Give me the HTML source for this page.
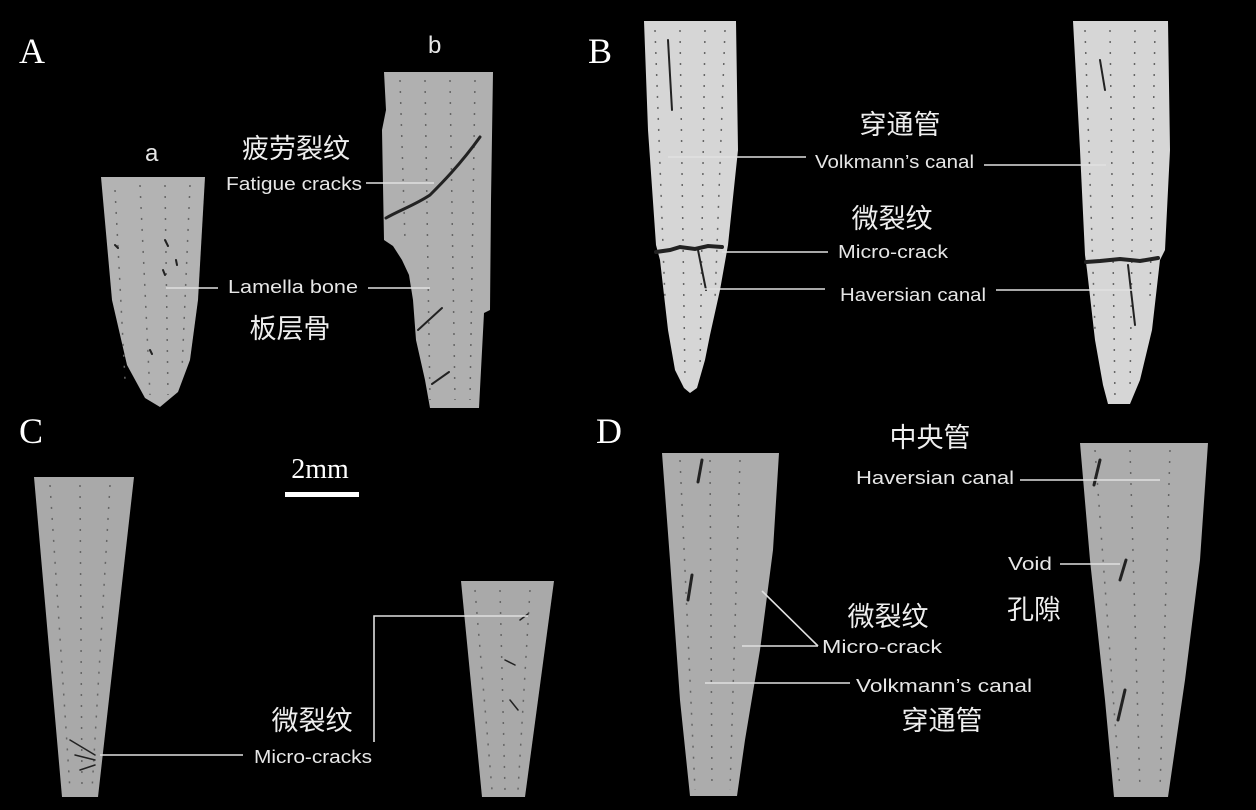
<!DOCTYPE html>
<html><head><meta charset="utf-8"><style>
html,body{margin:0;padding:0;background:#000;}
svg{display:block}
.en{font-family:"Liberation Sans",sans-serif;font-size:18px;fill:#e6e6e6}
.cn{font-family:"Liberation Sans","Noto Sans CJK SC",sans-serif;font-size:27px;fill:#eee;text-anchor:middle}
.lt{font-family:"Liberation Serif",serif;font-size:36px;fill:#fff}
.ln{stroke:#e0e0e0;stroke-width:1.6;fill:none}
.ck{stroke:#222;fill:none;stroke-linecap:round}
.sp{stroke:#666;stroke-width:1.5;stroke-dasharray:2 9;fill:none}
</style></head><body>
<svg width="1256" height="810" viewBox="0 0 1256 810" xmlns="http://www.w3.org/2000/svg">
<rect width="1256" height="810" fill="#000"/>
<!-- Panel A -->
<polygon fill="#b3b3b3" points="101,177 205,177 198,300 190,360 178,392 160,407 145,398 127,365 112,300"/>
<polygon fill="#b0b0b0" points="384,72 493,72 491,200 490,310 484,313 479,408 430,408 425,380 416,340 413,300 409,275 402,260 393,246 384,240 382,130 386,110"/>
<path class="sp" d="M115,190 L125,380 M140,185 L150,395 M165,185 L168,395 M190,185 L182,370 M400,80 L405,240 M425,80 L430,400 M450,80 L455,400 M475,80 L470,400"/>
<path class="ck" stroke-width="3" d="M480,137 C460,165 440,185 430,195 C415,205 400,210 386,218"/>
<path class="ck" stroke-width="2" d="M442,308 L418,330 M449,372 L432,384"/>
<path class="ck" stroke-width="2" d="M165,240 l3,6 M163,270 l2,5 M176,260 l1,5 M115,245 l3,3 M150,350 l2,4"/>
<text class="en" x="145" y="161" style="font-size:24px">a</text>
<text class="en" x="428" y="53" style="font-size:24px">b</text>
<text class="cn" x="296" y="158">疲劳裂纹</text>
<text class="en" x="226" y="190" textLength="136" lengthAdjust="spacingAndGlyphs">Fatigue cracks</text>
<line class="ln" x1="366" y1="183" x2="434" y2="183"/>
<text class="en" x="228" y="293" textLength="130" lengthAdjust="spacingAndGlyphs">Lamella bone</text>
<line class="ln" x1="166" y1="288" x2="218" y2="288"/>
<line class="ln" x1="368" y1="288" x2="430" y2="288"/>
<text class="cn" x="290" y="338">板层骨</text>
<text class="lt" x="19" y="63">A</text>
<!-- Panel B -->
<polygon fill="#d6d6d6" points="644,21 736,21 738,150 728,245 720,290 710,335 705,360 697,388 690,393 684,388 675,370 668,330 660,260 656,245 648,130"/>
<polygon fill="#d6d6d6" points="1073,21 1168,21 1170,150 1165,250 1160,260 1152,330 1140,380 1130,404 1108,404 1103,385 1095,340 1087,270 1085,255 1080,150"/>
<path class="sp" d="M655,30 L665,300 M680,30 L685,380 M705,30 L700,370 M725,30 L715,300 M1085,30 L1095,330 M1110,30 L1115,400 M1135,30 L1130,390 M1155,30 L1150,300"/>
<path class="ck" stroke-width="4" d="M656,252 L670,250 L680,247 L695,249 L708,246 L722,247"/>
<path class="ck" stroke-width="4" d="M1086,262 L1100,261 L1120,259 L1140,261 L1158,258"/>
<path class="ck" stroke-width="2" d="M698,250 L706,290 M1128,265 L1135,325 M668,40 L672,110 M1100,60 L1105,90"/>
<text class="cn" x="900" y="134">穿通管</text>
<text class="en" x="815" y="168" textLength="159" lengthAdjust="spacingAndGlyphs">Volkmann’s canal</text>
<line class="ln" x1="668" y1="157" x2="806" y2="157"/>
<line class="ln" x1="984" y1="165" x2="1106" y2="165"/>
<text class="cn" x="892" y="228">微裂纹</text>
<text class="en" x="838" y="258" textLength="110" lengthAdjust="spacingAndGlyphs">Micro-crack</text>
<line class="ln" x1="722" y1="252" x2="828" y2="252"/>
<text class="en" x="840" y="301" textLength="146" lengthAdjust="spacingAndGlyphs">Haversian canal</text>
<line class="ln" x1="704" y1="289" x2="825" y2="289"/>
<line class="ln" x1="996" y1="290" x2="1132" y2="290"/>
<text class="lt" x="588" y="63">B</text>
<!-- Panel C -->
<polygon fill="#a9a9a9" points="34,477 134,477 98,797 62,797"/>
<polygon fill="#a9a9a9" points="461,581 554,581 525,797 482,797"/>
<path class="sp" d="M50,485 L70,790 M80,485 L82,790 M110,485 L92,790 M475,590 L492,790 M500,590 L505,790 M530,590 L518,790"/>
<path class="ck" stroke-width="1.5" d="M70,740 l25,15 M75,755 l20,5 M80,770 l15,-5 M510,700 l8,10 M505,660 l10,5 M520,620 l8,-6"/>
<text class="lt" x="19" y="443">C</text>
<text x="320" y="478" style="font-family:'Liberation Serif',serif;font-size:28px;fill:#fff;text-anchor:middle">2mm</text>
<rect x="285" y="492" width="74" height="5" fill="#fff"/>
<text class="cn" x="312" y="730">微裂纹</text>
<text class="en" x="254" y="763" textLength="118" lengthAdjust="spacingAndGlyphs">Micro-cracks</text>
<line class="ln" x1="100" y1="755" x2="243" y2="755"/>
<polyline class="ln" points="374,742 374,616 528,616"/>
<!-- Panel D -->
<polygon fill="#acacac" points="662,453 779,453 773,550 760,650 745,740 737,796 690,796 680,700 670,560"/>
<polygon fill="#acacac" points="1080,443 1208,443 1200,560 1185,680 1168,797 1114,797 1105,700 1090,560"/>
<path class="sp" d="M680,460 L695,790 M710,460 L712,790 M740,460 L730,790 M1095,450 L1120,790 M1130,450 L1140,790 M1170,450 L1160,790"/>
<path class="ck" stroke-width="3" d="M702,460 L698,482 M692,575 L688,600 M1100,460 L1094,485 M1126,560 L1120,580 M1125,690 L1118,720"/>
<text class="lt" x="596" y="443">D</text>
<text class="cn" x="930" y="447">中央管</text>
<text class="en" x="856" y="484" textLength="158" lengthAdjust="spacingAndGlyphs">Haversian canal</text>
<line class="ln" x1="1020" y1="480" x2="1160" y2="480"/>
<text class="en" x="1008" y="570" textLength="44" lengthAdjust="spacingAndGlyphs">Void</text>
<line class="ln" x1="1060" y1="564" x2="1120" y2="564"/>
<text class="cn" x="1034" y="619">孔隙</text>
<text class="cn" x="888" y="626">微裂纹</text>
<text class="en" x="822" y="653" textLength="120" lengthAdjust="spacingAndGlyphs">Micro-crack</text>
<line class="ln" x1="742" y1="646" x2="818" y2="646"/>
<line class="ln" x1="762" y1="591" x2="818" y2="646"/>
<text class="en" x="856" y="692" textLength="176" lengthAdjust="spacingAndGlyphs">Volkmann’s canal</text>
<line class="ln" x1="705" y1="683" x2="850" y2="683"/>
<text class="cn" x="942" y="730">穿通管</text>
</svg>
</body></html>
